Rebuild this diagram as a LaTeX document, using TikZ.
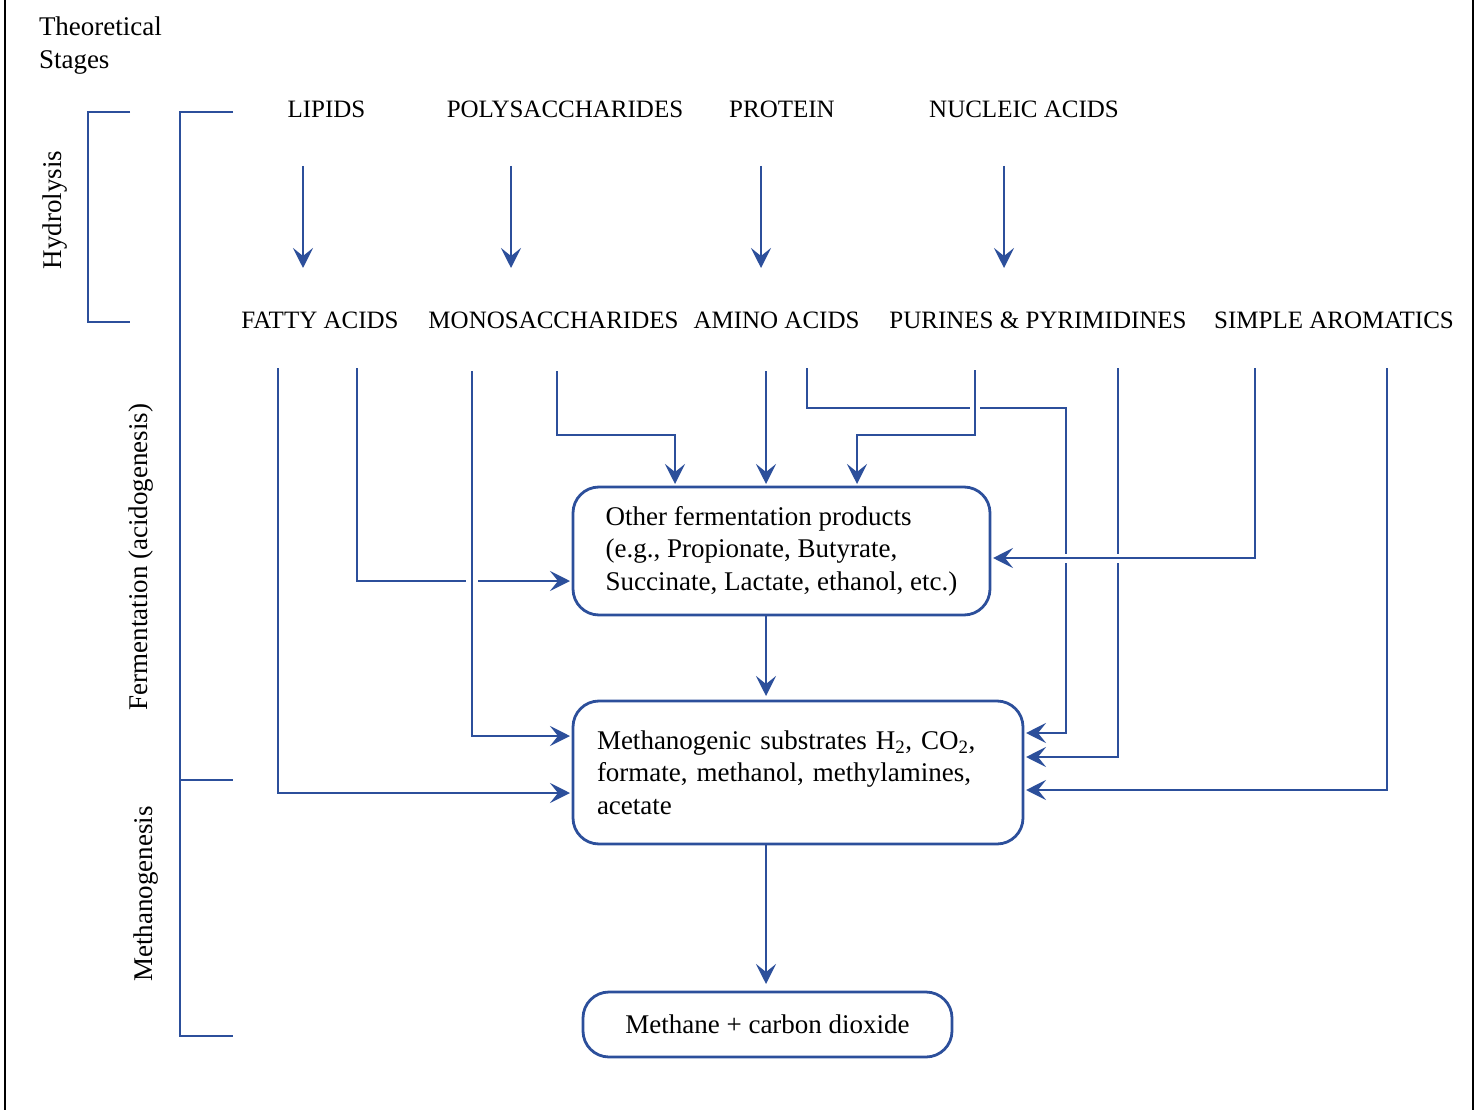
\documentclass[tikz,border=0pt]{standalone}
\usepackage{fontspec}
\setmainfont{Liberation Serif}
\usetikzlibrary{arrows.meta}
\definecolor{bl}{RGB}{44,79,155}
\begin{document}
\begin{tikzpicture}[x=1pt,y=-1pt,
  every node/.style={font=\fontsize{27}{32.5}\selectfont, inner sep=0pt, outer sep=0pt},
  lbl/.style={anchor=base, font=\fontsize{25}{30}\selectfont},
  conn/.style={draw=bl, line width=2.8pt},
  arr/.style={conn, -{Stealth[length=20pt,width=20pt,inset=8pt]}, shorten >=3pt},
  bracket/.style={draw=bl, line width=2.8pt},
  box/.style={draw=bl, line width=2.8pt, rounded corners=26pt},
  frame/.style={draw=black, line width=2pt},
  gap/.style={fill=white}]
\useasboundingbox (0,0) rectangle (1478,1110);

% frame
\draw[frame] (5,0) -- (5,1110);
\draw[frame] (1473,0) -- (1473,1110);

% stage labels and brackets
\node[anchor=north west, align=left] (stages) at (39,17) {Theoretical\\Stages};
\draw[bracket] (130,112) -- (88,112) -- (88,322) -- (130,322);
\draw[bracket] (233,112) -- (180,112) -- (180,1036) -- (233,1036);
\draw[bracket] (180,780) -- (233,780);
\node[rotate=90] (hyd) at (55,210) {Hydrolysis};
\node[rotate=90] (ferm) at (141,557) {Fermentation (acidogenesis)};
\node[rotate=90] (meth) at (146,894) {Methanogenesis};

% top row
\node[lbl] (lip) at (326.5,118) {LIPIDS};
\node[lbl] (poly) at (565,118) {POLYSACCHARIDES};
\node[lbl] (prot) at (782,118) {PROTEIN};
\node[lbl] (nuc) at (1024,118) {NUCLEIC ACIDS};

% second row
\node[lbl] (fat) at (320,328) {FATTY ACIDS};
\node[lbl] (mono) at (553.5,328) {MONOSACCHARIDES};
\node[lbl] (amino) at (776.5,328) {AMINO ACIDS};
\node[lbl] (pur) at (1038,328) {PURINES \& PYRIMIDINES};
\node[lbl] (arom) at (1334,328) {SIMPLE AROMATICS};

% boxes
\node[box, minimum width=417pt, minimum height=128pt, align=left] (box1) at (781.5,551)
  {Other fermentation products\\(e.g., Propionate, Butyrate,\\Succinate, Lactate, ethanol, etc.)};
\node[box, minimum width=450pt, minimum height=143pt, text width=402pt, inner xsep=24pt, align=left] (box2) at (798,772.5)
  {Methanogenic substrates H\textsubscript{2}, CO\textsubscript{2},\\formate, methanol, methylamines,\\acetate};
\node[box, minimum width=369pt, minimum height=65pt] (box3) at (767.5,1024.5) {Methane + carbon dioxide};

% hydrolysis arrows
\coordinate (h1s) at (303,166); \coordinate (h1e) at (303,268);
\coordinate (h2s) at (511,166); \coordinate (h2e) at (511,268);
\coordinate (h3s) at (761,166); \coordinate (h3e) at (761,268);
\coordinate (h4s) at (1004,166); \coordinate (h4e) at (1004,268);
\draw[arr, shorten >=0pt] (h1s) -- (h1e);
\draw[arr, shorten >=0pt] (h2s) -- (h2e);
\draw[arr, shorten >=0pt] (h3s) -- (h3e);
\draw[arr, shorten >=0pt] (h4s) -- (h4e);

% connector start points
\coordinate (c1) at (278,368);
\coordinate (c2) at (357,368);
\coordinate (c3) at (472,371);
\coordinate (c4) at (557,371);
\coordinate (c5) at (766,371);
\coordinate (c6) at (807,368);
\coordinate (c7) at (975,370);
\coordinate (c8) at (1118,368);
\coordinate (c9) at (1255,368);
\coordinate (c10) at (1387,368);

% lines that are broken at crossings
\draw[arr] (c2) |- (box1.west |- 0,581);
\draw[arr] (c6) |- (1066,408) |- (box2.east |- 0,733);
\draw[arr] (c8) |- (box2.east |- 0,757);

% gaps
\fill[gap] (466,576) rectangle (478,586);
\fill[gap] (970,403) rectangle (980,413);
\fill[gap] (1061,554) rectangle (1071,563);
\fill[gap] (1113,554) rectangle (1123,563);

% continuous lines
\draw[arr] (c3) |- (box2.west |- 0,736);
\draw[arr] (c7) |- (857,435) -- (box1.north -| 857,0);
\draw[arr] (c9) |- (box1.east |- 0,558);
\draw[arr] (c1) |- (box2.west |- 0,793);
\draw[arr] (c4) |- (675,435) -- (box1.north -| 675,0);
\draw[arr] (c5) -- (box1.north -| c5);
\draw[arr] (c10) |- (box2.east |- 0,790);

% between boxes
\draw[arr, shorten >=5pt] (box1.south -| 766,0) -- (box2.north -| 766,0);
\draw[arr, shorten >=8pt] (box2.south -| 766,0) -- (box3.north -| 766,0);
\end{tikzpicture}
\end{document}
